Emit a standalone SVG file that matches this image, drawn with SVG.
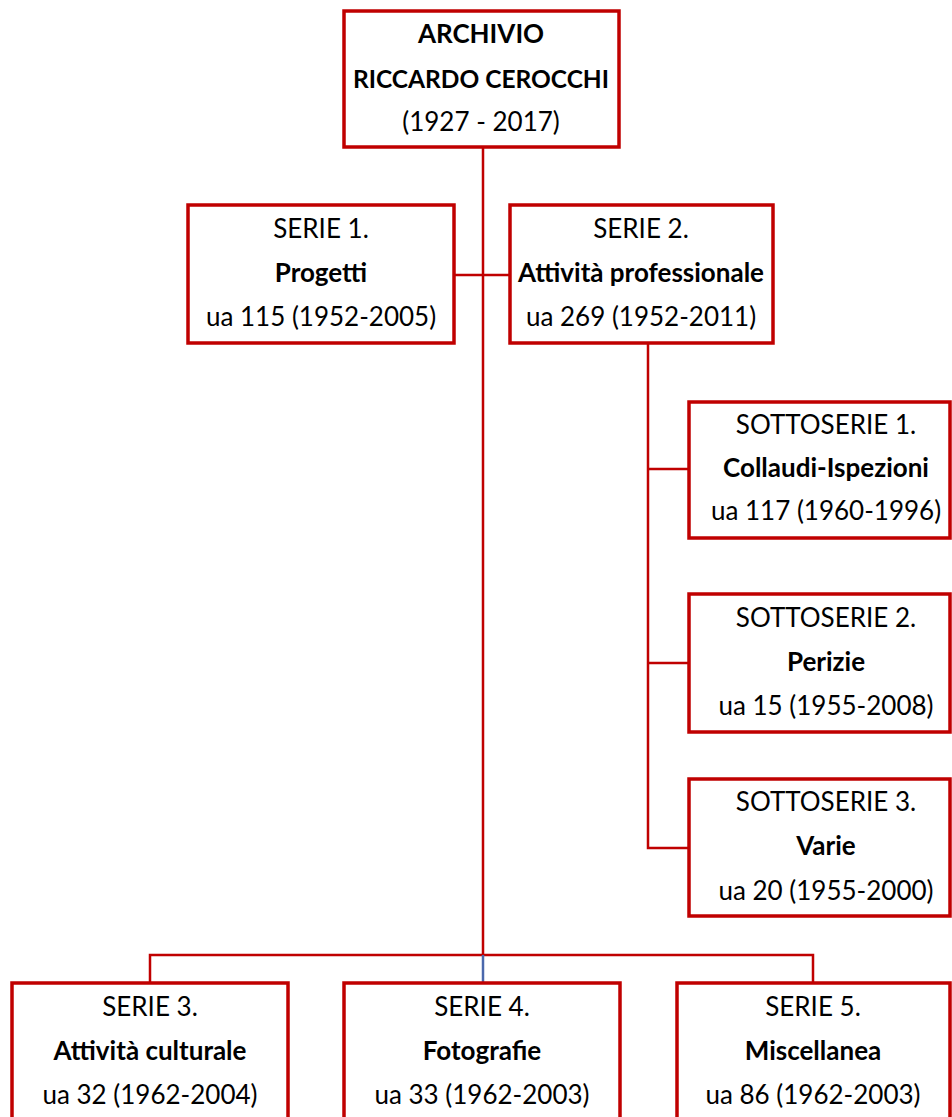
<svg xmlns="http://www.w3.org/2000/svg" width="952" height="1117" viewBox="0 0 952 1117">
<style>
.box{fill:#fff;stroke:#c00000;stroke-width:3.5}
.ln{fill:none;stroke:#c00000;stroke-width:2.5}
.blue{fill:none;stroke:#4a68ac;stroke-width:2.5}
text{font-family:Lato,"Open Sans",sans-serif;font-size:26px;fill:#000;text-anchor:middle}
.b{font-weight:bold}
</style>
<rect width="952" height="1117" fill="#fff"/>
<g id="connectors">
<path class="ln" d="M483 147V955"/>
<path class="ln" d="M454 275H510"/>
<path class="ln" d="M648 343V848H689M648 469H689M648 663H689"/>
<path class="ln" d="M150 988V955H813V983"/>
<path class="blue" d="M483 955V983"/>
</g>
<g id="root">
<rect class="box" x="344" y="11" width="275" height="136"/>
<text class="b" x="481" y="43">ARCHIVIO</text>
<text class="b" x="481" y="88" style="font-size:24.5px">RICCARDO CEROCCHI</text>
<text x="481" y="131">(1927 - 2017)</text>
</g>
<g id="serie1">
<rect class="box" x="188" y="205" width="266" height="138"/>
<text x="321" y="238">SERIE 1.</text>
<text class="b" x="321" y="282">Progetti</text>
<text x="321" y="326">ua 115 (1952-2005)</text>
</g>
<g id="serie2">
<rect class="box" x="510" y="205" width="263" height="138"/>
<text x="641" y="238">SERIE 2.</text>
<text class="b" x="641" y="282">Attività professionale</text>
<text x="641" y="326">ua 269 (1952-2011)</text>
</g>
<g id="sottoserie1">
<rect class="box" x="689" y="402" width="261" height="136"/>
<text x="826" y="434">SOTTOSERIE 1.</text>
<text class="b" x="826" y="477">Collaudi-Ispezioni</text>
<text x="826" y="520">ua 117 (1960-1996)</text>
</g>
<g id="sottoserie2">
<rect class="box" x="689" y="594" width="261" height="138"/>
<text x="826" y="627">SOTTOSERIE 2.</text>
<text class="b" x="826" y="671">Perizie</text>
<text x="826" y="715">ua 15 (1955-2008)</text>
</g>
<g id="sottoserie3">
<rect class="box" x="689" y="779" width="261" height="137"/>
<text x="826" y="811">SOTTOSERIE 3.</text>
<text class="b" x="826" y="855">Varie</text>
<text x="826" y="900">ua 20 (1955-2000)</text>
</g>
<g id="serie3">
<rect class="box" x="12" y="983" width="276" height="150"/>
<text x="150" y="1016">SERIE 3.</text>
<text class="b" x="150" y="1060">Attività culturale</text>
<text x="150" y="1104">ua 32 (1962-2004)</text>
</g>
<g id="serie4">
<rect class="box" x="344" y="983" width="276" height="150"/>
<text x="482" y="1016">SERIE 4.</text>
<text class="b" x="482" y="1060">Fotografie</text>
<text x="482" y="1104">ua 33 (1962-2003)</text>
</g>
<g id="serie5">
<rect class="box" x="677" y="983" width="273" height="150"/>
<text x="813" y="1016">SERIE 5.</text>
<text class="b" x="813" y="1060">Miscellanea</text>
<text x="813" y="1104">ua 86 (1962-2003)</text>
</g>
</svg>
